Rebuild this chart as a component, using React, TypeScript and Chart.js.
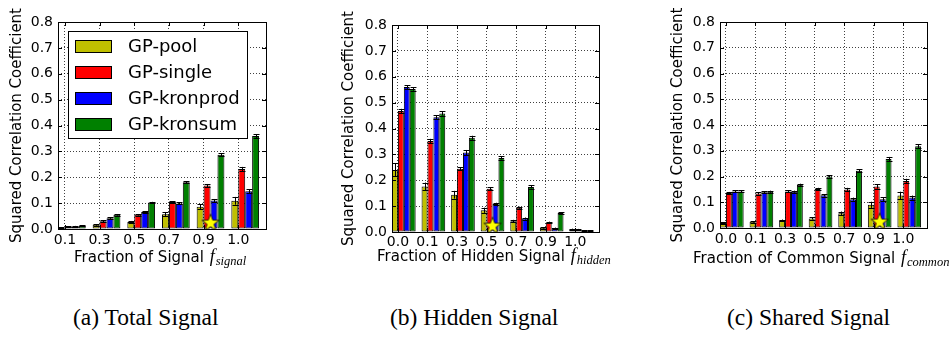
import React, { useEffect, useRef } from 'react';
import { Chart, registerables } from 'chart.js';

Chart.register(...registerables);

// ---------------- data ----------------
const seriesNames = ['GP-pool', 'GP-single', 'GP-kronprod', 'GP-kronsum'];
const seriesColors = ['#bfbf00', '#ff0000', '#0000ff', '#008000'];
const yTickValues = [0, 0.1, 0.2, 0.3, 0.4, 0.5, 0.6, 0.7, 0.8];
const yTitle = 'Squared Correlation Coefficient';
const starY = 0.025;

// (a) Total Signal
const totalLabels = ['0.1', '0.3', '0.5', '0.7', '0.9', '1.0'];
const totalPool = [0.005, 0.016, 0.027, 0.057, 0.086, 0.109];
const totalSingle = [0.008, 0.030, 0.055, 0.104, 0.168, 0.232];
const totalKronprod = [0.010, 0.042, 0.066, 0.099, 0.110, 0.146];
const totalKronsum = [0.013, 0.055, 0.102, 0.181, 0.287, 0.359];
const totalPoolErr = [0.002, 0.003, 0.004, 0.007, 0.010, 0.015];
const totalSingleErr = [0.002, 0.003, 0.003, 0.004, 0.006, 0.008];
const totalKronprodErr = [0.002, 0.003, 0.003, 0.004, 0.006, 0.008];
const totalKronsumErr = [0.002, 0.003, 0.003, 0.004, 0.006, 0.008];
const totalStarIndex = 4;

// (b) Hidden Signal
const hiddenLabels = ['0.0', '0.1', '0.3', '0.5', '0.7', '0.9', '1.0'];
const hiddenPool = [0.240, 0.176, 0.144, 0.084, 0.042, 0.016, 0.011];
const hiddenSingle = [0.468, 0.352, 0.244, 0.167, 0.094, 0.037, 0.010];
const hiddenKronprod = [0.560, 0.443, 0.307, 0.108, 0.052, 0.015, 0.006];
const hiddenKronsum = [0.553, 0.458, 0.364, 0.286, 0.174, 0.073, 0.006];
const hiddenPoolErr = [0.025, 0.015, 0.015, 0.010, 0.005, 0.003, 0.002];
const hiddenSingleErr = [0.008, 0.008, 0.006, 0.005, 0.004, 0.003, 0.002];
const hiddenKronprodErr = [0.007, 0.008, 0.010, 0.005, 0.004, 0.002, 0.001];
const hiddenKronsumErr = [0.007, 0.008, 0.008, 0.006, 0.006, 0.003, 0.001];
const hiddenStarIndex = 3;

// (c) Shared Signal
const commonLabels = ['0.0', '0.1', '0.3', '0.5', '0.7', '0.9', '1.0'];
const commonPool = [0.019, 0.024, 0.030, 0.037, 0.057, 0.090, 0.126];
const commonSingle = [0.136, 0.134, 0.142, 0.151, 0.150, 0.161, 0.183];
const commonKronprod = [0.142, 0.139, 0.141, 0.127, 0.112, 0.112, 0.118];
const commonKronsum = [0.142, 0.141, 0.168, 0.200, 0.222, 0.268, 0.317];
const commonPoolErr = [0.003, 0.003, 0.003, 0.004, 0.007, 0.012, 0.015];
const commonSingleErr = [0.004, 0.004, 0.004, 0.005, 0.006, 0.008, 0.008];
const commonKronprodErr = [0.004, 0.004, 0.004, 0.005, 0.006, 0.007, 0.008];
const commonKronsumErr = [0.004, 0.004, 0.004, 0.004, 0.006, 0.008, 0.008];
const commonStarIndex = 5;

// ---------------- layout ----------------
type PanelSpec = {
  labels: string[];
  values: number[][];
  errors: number[][];
  starIndex: number;
  titleMain: string;
  titleSub: string;
  caption: string;
  canvasLeft: number;
  canvasWidth: number;
  plotLeft: number;
  plotRight: number;
  plotTop: number;
  plotBottom: number;
  yTitlePad: number;
  xTickPad: number;
  xTitleStart: number;
  xTitleBaseline: number;
  captionLeft: number;
  legend: boolean;
};

const CANVAS_H = 280;
const X_AXIS_H = 20;

const panels: PanelSpec[] = [
  {
    labels: totalLabels,
    values: [totalPool, totalSingle, totalKronprod, totalKronsum],
    errors: [totalPoolErr, totalSingleErr, totalKronprodErr, totalKronsumErr],
    starIndex: totalStarIndex,
    titleMain: 'Fraction of Signal',
    titleSub: 'signal',
    caption: '(a) Total Signal',
    canvasLeft: 0,
    canvasWidth: 290,
    plotLeft: 58,
    plotRight: 266,
    plotTop: 22,
    plotBottom: 229,
    yTitlePad: 8,
    xTickPad: 3,
    xTitleStart: 74,
    xTitleBaseline: 262,
    captionLeft: 73,
    legend: true,
  },
  {
    labels: hiddenLabels,
    values: [hiddenPool, hiddenSingle, hiddenKronprod, hiddenKronsum],
    errors: [hiddenPoolErr, hiddenSingleErr, hiddenKronprodErr, hiddenKronsumErr],
    starIndex: hiddenStarIndex,
    titleMain: 'Fraction of Hidden Signal',
    titleSub: 'hidden',
    caption: '(b) Hidden Signal',
    canvasLeft: 330,
    canvasWidth: 290,
    plotLeft: 392,
    plotRight: 599,
    plotTop: 25,
    plotBottom: 232,
    yTitlePad: 10,
    xTickPad: 2,
    xTitleStart: 377,
    xTitleBaseline: 261,
    captionLeft: 390,
    legend: false,
  },
  {
    labels: commonLabels,
    values: [commonPool, commonSingle, commonKronprod, commonKronsum],
    errors: [commonPoolErr, commonSingleErr, commonKronprodErr, commonKronsumErr],
    starIndex: commonStarIndex,
    titleMain: 'Fraction of Common Signal',
    titleSub: 'common',
    caption: '(c) Shared Signal',
    canvasLeft: 660,
    canvasWidth: 292,
    plotLeft: 720,
    plotRight: 927,
    plotTop: 22,
    plotBottom: 228,
    yTitlePad: 9,
    xTickPad: 3,
    xTitleStart: 693,
    xTitleBaseline: 263,
    captionLeft: 727,
    legend: false,
  },
];

function makeStar(): HTMLCanvasElement {
  const c = document.createElement('canvas');
  c.width = 20;
  c.height = 20;
  const g = c.getContext('2d')!;
  const cx = 10, cy = 10.5, ro = 9, ri = 3.7;
  g.beginPath();
  for (let k = 0; k < 10; k++) {
    const r = k % 2 === 0 ? ro : ri;
    const a = -Math.PI / 2 + (k * Math.PI) / 5;
    const px = cx + r * Math.cos(a);
    const py = cy + r * Math.sin(a);
    if (k === 0) g.moveTo(px, py);
    else g.lineTo(px, py);
  }
  g.closePath();
  g.fillStyle = '#ffff00';
  g.fill();
  g.strokeStyle = '#000';
  g.lineWidth = 0.8;
  g.stroke();
  return c;
}

function PanelChart({ spec }: { spec: PanelSpec }) {
  const ref = useRef<HTMLCanvasElement | null>(null);

  useEffect(() => {
    const canvas = ref.current;
    if (!canvas) return;
    const n = spec.labels.length;
    const tickPos = spec.labels.map((_, i) => i + 0.2);
    const star = makeStar();

    const decor = {
      id: 'decor',
      afterDatasetDraw(chart: any, args: any) {
        const s = args.index;
        if (s >= spec.values.length) return;
        const ctx = chart.ctx;
        const ya = chart.scales.y;
        const meta = chart.getDatasetMeta(s);
        ctx.save();
        ctx.strokeStyle = '#000';
        ctx.lineWidth = 1;
        meta.data.forEach((el: any, i: number) => {
          const v = spec.values[s][i];
          const e = spec.errors[s][i];
          const x = Math.round(el.x) + 0.5;
          const y1 = ya.getPixelForValue(v + e);
          const y2 = ya.getPixelForValue(Math.max(v - e, 0));
          const cw = Math.min(3, el.width / 2);
          ctx.beginPath();
          ctx.moveTo(x, y1);
          ctx.lineTo(x, y2);
          ctx.moveTo(x - cw, Math.round(y1) + 0.5);
          ctx.lineTo(x + cw, Math.round(y1) + 0.5);
          ctx.moveTo(x - cw, Math.round(y2) + 0.5);
          ctx.lineTo(x + cw, Math.round(y2) + 0.5);
          ctx.stroke();
        });
        ctx.restore();
      },
      afterDraw(chart: any) {
        const ctx = chart.ctx;
        const ca = chart.chartArea;
        const xa = chart.scales.x;
        const ya = chart.scales.y;
        ctx.save();
        ctx.strokeStyle = '#000';
        ctx.lineWidth = 1;
        // ticks (inward, all sides)
        ctx.beginPath();
        yTickValues.forEach((v) => {
          const y = Math.round(ya.getPixelForValue(v)) + 0.5;
          ctx.moveTo(ca.left, y);
          ctx.lineTo(ca.left + 4, y);
          ctx.moveTo(ca.right - 4, y);
          ctx.lineTo(ca.right, y);
        });
        tickPos.forEach((v) => {
          const x = Math.round(xa.getPixelForValue(v)) + 0.5;
          ctx.moveTo(x, ca.bottom);
          ctx.lineTo(x, ca.bottom - 4);
          ctx.moveTo(x, ca.top);
          ctx.lineTo(x, ca.top + 4);
        });
        ctx.stroke();
        // frame
        ctx.strokeRect(
          Math.round(ca.left) + 0.5,
          Math.round(ca.top) + 0.5,
          Math.round(ca.right) - Math.round(ca.left),
          Math.round(ca.bottom) - Math.round(ca.top)
        );
        // legend
        if (spec.legend) {
          const bx = Math.round(ca.left) + 10;
          const by = Math.round(ca.top) + 9;
          const bw = 179;
          const bh = 107;
          ctx.fillStyle = '#ffffff';
          ctx.fillRect(bx, by, bw, bh);
          ctx.strokeRect(bx + 0.5, by + 0.5, bw, bh);
          ctx.font = '18px "DejaVu Sans"';
          ctx.textBaseline = 'middle';
          ctx.textAlign = 'left';
          seriesNames.forEach((name, s) => {
            const cy = by + 15 + s * 26;
            ctx.fillStyle = seriesColors[s];
            ctx.fillRect(bx + 7, cy - 6, 37, 13);
            ctx.strokeRect(bx + 7.5, cy - 5.5, 36, 12);
            ctx.fillStyle = '#000';
            ctx.fillText(name, bx + 60, cy + 1);
          });
        }
        // x-axis title with math subscript
        const x0 = spec.xTitleStart - spec.canvasLeft;
        const base = spec.xTitleBaseline;
        ctx.fillStyle = '#000';
        ctx.textBaseline = 'alphabetic';
        ctx.textAlign = 'left';
        ctx.font = '15px "DejaVu Sans"';
        ctx.fillText(spec.titleMain, x0, base);
        const w = ctx.measureText(spec.titleMain + ' ').width;
        ctx.font = 'italic 18px "Liberation Serif"';
        ctx.fillText('f', x0 + w + 1, base);
        const fw = ctx.measureText('f').width;
        ctx.font = 'italic 12.5px "Liberation Serif"';
        ctx.fillText(spec.titleSub, x0 + w + fw + 2, base + 3);
        ctx.restore();
      },
    };

    const font14 = { family: '"DejaVu Sans"', size: 14 };

    const chart = new Chart(canvas, {
      type: 'bar',
      data: {
        datasets: [
          ...seriesNames.map((name, s) => ({
            label: name,
            data: spec.values[s].map((v, i) => ({ x: i + 0.4, y: v })),
            backgroundColor: seriesColors[s],
            borderColor: '#000000',
            borderWidth: 1,
            borderSkipped: false,
            categoryPercentage: 0.8,
            barPercentage: 1.0,
            order: 0,
          })),
          {
            type: 'scatter',
            label: 'star',
            data: [{ x: spec.starIndex + 0.4, y: starY }],
            pointStyle: star,
            pointRadius: 10,
            order: -1,
          } as any,
        ],
      },
      options: {
        responsive: false,
        animation: false,
        events: [],
        layout: {
          padding: {
            left: 0,
            top: spec.plotTop,
            right: spec.canvasLeft + spec.canvasWidth - spec.plotRight,
            bottom: CANVAS_H - spec.plotBottom - X_AXIS_H,
          },
        },
        plugins: {
          legend: { display: false },
          tooltip: { enabled: false },
          title: { display: false },
        },
        scales: {
          x: {
            type: 'linear',
            min: 0,
            max: n,
            offset: false,
            afterBuildTicks: (s: any) => {
              s.ticks = tickPos.map((v) => ({ value: v }));
            },
            afterFit: (s: any) => {
              s.height = X_AXIS_H;
            },
            ticks: {
              autoSkip: false,
              maxRotation: 0,
              minRotation: 0,
              padding: spec.xTickPad,
              color: '#000',
              font: font14,
              callback: (_v: any, i: number) => spec.labels[i],
            },
            grid: {
              offset: false,
              drawTicks: false,
              color: 'rgba(0,0,0,0.75)',
              lineWidth: 1,
            },
            border: { display: false, dash: [1, 2] },
          },
          y: {
            type: 'linear',
            min: 0,
            max: 0.8,
            afterBuildTicks: (s: any) => {
              s.ticks = yTickValues.map((v) => ({ value: v }));
            },
            afterFit: (s: any) => {
              s.width = spec.plotLeft - spec.canvasLeft;
            },
            ticks: {
              padding: 5,
              color: '#000',
              font: font14,
              callback: (v: any) => Number(v).toFixed(1),
            },
            grid: {
              drawTicks: false,
              color: 'rgba(0,0,0,0.75)',
              lineWidth: 1,
            },
            border: { display: false, dash: [1, 2] },
            title: {
              display: true,
              text: yTitle,
              color: '#000',
              font: { family: '"DejaVu Sans"', size: 15 },
              padding: { top: spec.yTitlePad, bottom: 0 },
            },
          },
        },
      },
      plugins: [decor],
    } as any);

    return () => {
      chart.destroy();
    };
  }, [spec]);

  return (
    <canvas
      ref={ref}
      width={spec.canvasWidth}
      height={CANVAS_H}
      style={{
        position: 'absolute',
        left: spec.canvasLeft,
        top: 0,
        width: spec.canvasWidth,
        height: CANVAS_H,
      }}
    />
  );
}

export default function App() {
  return (
    <div
      style={{
        position: 'absolute',
        left: 0,
        top: 0,
        width: 952,
        height: 339,
        background: '#ffffff',
        overflow: 'hidden',
      }}
    >
      {panels.map((p, i) => (
        <PanelChart key={i} spec={p} />
      ))}
      {panels.map((p, i) => (
        <div
          key={'cap' + i}
          style={{
            position: 'absolute',
            left: p.captionLeft,
            top: 305,
            fontFamily: '"Liberation Serif", "Times New Roman", serif',
            fontSize: 23.5,
            lineHeight: '24px',
            whiteSpace: 'nowrap',
            color: '#000',
          }}
        >
          {p.caption}
        </div>
      ))}
    </div>
  );
}
